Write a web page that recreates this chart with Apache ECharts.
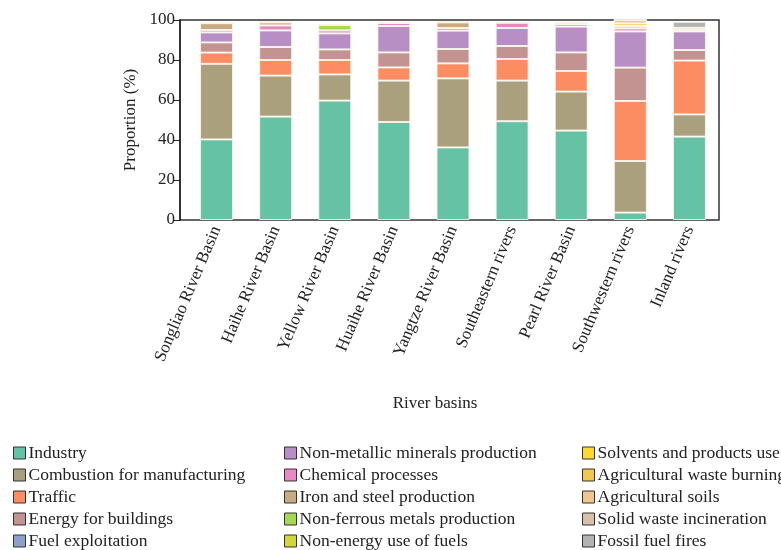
<!DOCTYPE html>
<html>
<head>
<meta charset="utf-8">
<script src="https://cdn.jsdelivr.net/npm/echarts@6/dist/echarts.min.js"></script>
<style>
  html, body { margin: 0; padding: 0; background: #fff; }
  #main { width: 781px; height: 550px; }
</style>
</head>
<body>
<div id="main"></div>
<script>
var basins = ['Songliao River Basin', 'Haihe River Basin', 'Yellow River Basin', 'Huaihe River Basin',
  'Yangtze River Basin', 'Southeastern rivers', 'Pearl River Basin', 'Southwestern rivers', 'Inland rivers'];

var sources = ['Industry', 'Combustion for manufacturing', 'Traffic', 'Energy for buildings', 'Fuel exploitation',
  'Non-metallic minerals production', 'Chemical processes', 'Iron and steel production', 'Non-ferrous metals production',
  'Non-energy use of fuels', 'Solvents and products use', 'Agricultural waste burning', 'Agricultural soils',
  'Solid waste incineration', 'Fossil fuel fires'];

var colors = ['#66c2a5', '#aba07d', '#fc8d62', '#c39391', '#8da0cb', '#b78fc4', '#e78ac3', '#c7ab82',
  '#a6d854', '#d4d43c', '#ffd92f', '#f3c74f', '#f1c58f', '#d6c1a8', '#b3b3b3'];

// proportion (%) per basin, one array per source
var industry     = [40.3, 51.7, 59.7, 49.0, 36.3, 49.4, 44.7, 3.7, 41.7];
var combustion   = [37.8, 20.5, 13.1, 20.7, 34.5, 20.3, 19.5, 25.8, 11.1];
var traffic      = [5.6, 7.8, 7.2, 6.6, 7.5, 10.8, 10.3, 30.0, 26.9];
var buildings    = [5.1, 6.5, 5.3, 7.5, 7.2, 6.5, 9.3, 16.7, 5.3];
var fuelExploit  = [0, 0, 0, 0, 0, 0, 0, 0, 0];
var nonMetallic  = [5.0, 8.3, 8.0, 13.2, 9.2, 9.0, 12.9, 18.1, 9.3];
var chemical     = [1.2, 2.5, 1.5, 1.5, 1.3, 2.7, 1.3, 1.5, 0.8];
var ironSteel    = [3.4, 1.5, 0, 0, 2.8, 0, 0, 0, 0];
var nonFerrous   = [0, 0, 2.8, 0, 0, 0, 0.7, 0, 0];
var nonEnergy    = [0, 0, 0, 0, 0, 0, 0, 0, 0];
var solvents     = [0, 0, 0, 0, 0, 0, 0, 1.2, 0];
var agriBurning  = [0, 0, 0, 0, 0, 0, 0, 1.3, 0];
var agriSoils    = [0, 0, 0, 0, 0, 0, 0, 1.7, 1.0];
var solidWaste   = [0, 0, 0, 0, 0, 0, 0, 0, 0];
var fossilFires  = [0, 0, 0, 0, 0, 0, 0, 0, 3.0];

var values = [industry, combustion, traffic, buildings, fuelExploit, nonMetallic, chemical, ironSteel,
  nonFerrous, nonEnergy, solvents, agriBurning, agriSoils, solidWaste, fossilFires];

var yTicks = [0, 20, 40, 60, 80, 100];

var font = '"Liberation Serif", "DejaVu Serif", serif';

var series = sources.map(function (name, i) {
  return {
    name: name,
    type: 'bar',
    stack: 'total',
    barWidth: 33,
    data: values[i],
    itemStyle: { color: colors[i], borderColor: 'rgba(250,245,235,0.9)', borderWidth: 1 }
  };
});

function legendCol(left, names) {
  return {
    orient: 'vertical',
    left: left,
    top: 444,
    height: 130,
    padding: 0,
    itemWidth: 12,
    itemHeight: 12,
    itemGap: 4,
    icon: 'rect',
    data: names,
    selectedMode: false,
    itemStyle: { borderColor: '#333', borderWidth: 1 },
    textStyle: { fontFamily: font, fontSize: 17.5, lineHeight: 18, color: '#222', padding: [0, 0, 0, -2] }
  };
}

var chart = echarts.init(document.getElementById('main'));
chart.setOption({
  animation: false,
  grid: [
    { left: 187, right: 62, top: 20, bottom: 330 },
    // frame box
    { left: 180, right: 62, top: 20, bottom: 330, show: true, borderColor: '#333', borderWidth: 1.5 }
  ],
  legend: [
    legendCol(13, sources.slice(0, 5)),
    legendCol(284, sources.slice(5, 10)),
    legendCol(582, sources.slice(10, 15))
  ],
  xAxis: [{
    type: 'category',
    data: basins,
    name: 'River basins',
    nameLocation: 'middle',
    nameGap: 175,
    nameTextStyle: { fontFamily: font, fontSize: 17, color: '#222', padding: [0, 36, 0, 0] },
    axisLine: { show: false },
    axisTick: { show: false },
    axisLabel: { rotate: 67, interval: 0, margin: 7, fontFamily: font, fontSize: 17, color: '#222' }
  }, {
    gridIndex: 1, type: 'value', show: false
  }],
  yAxis: [{
    type: 'value',
    min: yTicks[0],
    max: yTicks[yTicks.length - 1],
    interval: 20,
    offset: 7,
    name: 'Proportion (%)',
    nameLocation: 'middle',
    nameGap: 37,
    nameTextStyle: { fontFamily: font, fontSize: 17, color: '#222' },
    axisLine: { show: true, lineStyle: { color: '#222', width: 1.5 } },
    axisTick: { show: true, length: 6, lineStyle: { color: '#222' } },
    splitLine: { show: false },
    axisLabel: { margin: 5, fontFamily: font, fontSize: 17, color: '#222' }
  }, {
    gridIndex: 1, type: 'value', show: false
  }],
  series: series
});
</script>
</body>
</html>
